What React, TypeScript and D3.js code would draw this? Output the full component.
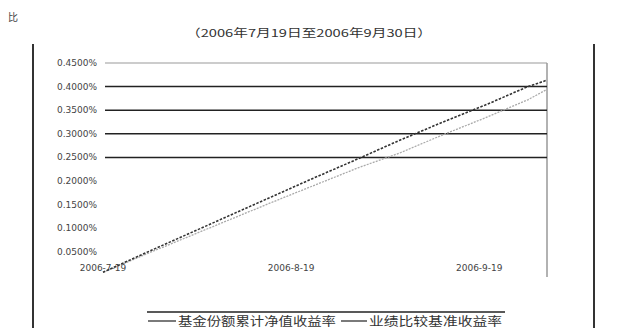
import React from "react";
import * as d3 from "d3";

const dates = ["2006-07-19","2006-07-26","2006-08-02","2006-08-09","2006-08-16","2006-08-23","2006-08-30","2006-09-06","2006-09-13","2006-09-20","2006-09-27","2006-09-30"];
const fundReturn = [0.007,0.048,0.088,0.128,0.168,0.208,0.247,0.287,0.325,0.361,0.400,0.413];
const benchReturn = [0.007,0.045,0.082,0.119,0.156,0.192,0.228,0.260,0.298,0.334,0.372,0.393];
const yTicks = [0.05,0.10,0.15,0.20,0.25,0.30,0.35,0.40,0.45];
const gridTicks = [0.25,0.30,0.35,0.40];
const xTickDates = ["2006-07-19","2006-08-19","2006-09-19"];
const xTickLabels = ["2006-7-19","2006-8-19","2006-9-19"];
const subtitle = "（2006年7月19日至2006年9月30日）";
const legendNames = ["基金份额累计净值收益率","业绩比较基准收益率"];

const parse = d3.timeParse("%Y-%m-%d");

export default function App() {
  const x = d3.scaleTime().domain([parse("2006-07-19")!, parse("2006-09-30")!]).range([103, 546]);
  const y = d3.scaleLinear().domain([0, 0.45]).range([275.6, 63]);
  const line = d3.line<number>().x((_, i) => x(parse(dates[i])!)).y((d) => y(d));
  const fmt = (v: number) => v.toFixed(4) + "%";
  const cjk = "'Noto Sans CJK SC', 'Noto Sans', sans-serif";
  return (
    <svg width={617} height={328} style={{ position: "absolute", left: 0, top: 0, background: "#fff" }}>
      <text x={8} y={21} fontSize={10} fontFamily={cjk} fill="#444">比</text>
      <text x={186} y={37} fontSize={11} fontFamily={cjk} fill="#333" textLength={246} lengthAdjust="spacingAndGlyphs">{subtitle}</text>
      {/* outer frame verticals */}
      <line x1={33} x2={33} y1={44} y2={328} stroke="#333" strokeWidth={2} />
      <line x1={594} x2={594} y1={44} y2={328} stroke="#333" strokeWidth={2} />
      {/* plot top border and right edge */}
      <line x1={105} x2={547} y1={y(0.45)} y2={y(0.45)} stroke="#999" strokeWidth={1} />
      <line x1={547} x2={547} y1={y(0.45)} y2={277} stroke="#999" strokeWidth={1.5} />
      {gridTicks.map((t) => (
        <line key={t} x1={105} x2={547} y1={y(t)} y2={y(t)} stroke="#222" strokeWidth={1.5} />
      ))}
      {yTicks.map((t) => (
        <text key={t} x={97} y={y(t) + 3} fontSize={9} fontFamily="'DejaVu Sans', sans-serif" fill="#444" textAnchor="end">{fmt(t)}</text>
      ))}
      {xTickDates.map((d, i) => (
        <text key={d} x={x(parse(d)!)} y={271} fontSize={9} fontFamily="'DejaVu Sans', sans-serif" fill="#444" textAnchor="middle">{xTickLabels[i]}</text>
      ))}
      <path d={line(benchReturn)!} fill="none" stroke="#aaa" strokeWidth={1.3} strokeDasharray="2,1.2" />
      <path d={line(fundReturn)!} fill="none" stroke="#333" strokeWidth={1.6} strokeDasharray="2.5,1.5" />
      {/* legend */}
      <line x1={147} x2={505} y1={312} y2={312} stroke="#222" strokeWidth={1.5} />
      <line x1={148} x2={176} y1={321} y2={321} stroke="#222" strokeWidth={1.2} />
      <text x={178} y={325.5} fontSize={12} fontFamily={cjk} fill="#333" textLength={158} lengthAdjust="spacingAndGlyphs">{legendNames[0]}</text>
      <line x1={341} x2={367} y1={321} y2={321} stroke="#222" strokeWidth={1.2} />
      <text x={369} y={325.5} fontSize={12} fontFamily={cjk} fill="#333" textLength={133} lengthAdjust="spacingAndGlyphs">{legendNames[1]}</text>
    </svg>
  );
}
